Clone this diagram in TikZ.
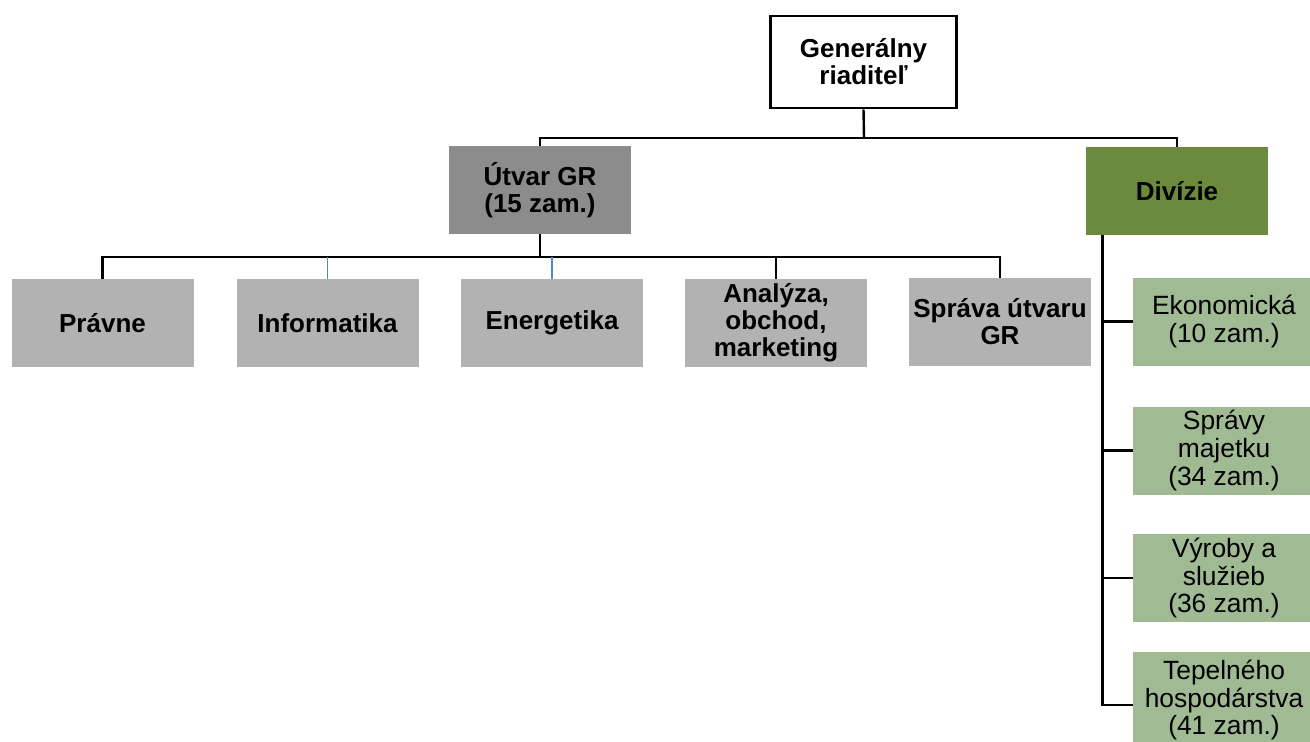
\documentclass[tikz,border=0pt]{standalone}
\usepackage{fontspec}
\setmainfont{Liberation Sans}
\definecolor{headgray}{RGB}{140,140,140}
\definecolor{unitgray}{RGB}{178,178,178}
\definecolor{divgreen}{RGB}{108,138,62}
\definecolor{subgreen}{RGB}{160,186,148}
\definecolor{thinblue}{RGB}{70,140,200}
\tikzset{
  box/.style={rectangle, inner sep=0pt, minimum width=91pt, minimum height=44pt, align=center, font=\fontsize{13}{13.5}\selectfont\bfseries},
  topbox/.style={box, draw=black, line width=1.3pt, minimum width=93pt, minimum height=46pt},
  headbox/.style={box, fill=headgray},
  unitbox/.style={box, fill=unitgray},
  divbox/.style={box, fill=divgreen},
  subbox/.style={box, fill=subgreen, font=\fontsize{13.2}{13.8}\selectfont},
  conn/.style={line width=1.2pt},
  blueconn/.style={thinblue, line width=0.6pt}
}
\begin{document}
\begin{tikzpicture}[x=0.5pt,y=-0.5pt]
\useasboundingbox[fill=white] (0,0) rectangle (1310,741);
\node[topbox] (gr) at (863.5,62) {Generálny\\riaditeľ};
\node[headbox] (utvar) at (540,190) {Útvar GR\\(15 zam.)};
\node[divbox] (div) at (1177,191) {Divízie};
\node[unitbox] (pravne) at (102.5,323) {Právne};
\node[unitbox] (info) at (327.5,323) {Informatika};
\node[unitbox] (ener) at (552,323) {Energetika};
\node[unitbox] (anal) at (776,323) {Analýza,\\obchod,\\marketing};
\node[unitbox] (sprava) at (1000,322) {Správa útvaru\\GR};
\node[subbox] (ekon) at (1224,321.5) {Ekonomická\\(10 zam.)};
\node[subbox] (majetok) at (1224,450.5) {Správy\\majetku\\(34 zam.)};
\node[subbox] (vyroby) at (1224,578) {Výroby a\\služieb\\(36 zam.)};
\node[subbox, minimum height=48pt] (tepel) at (1224,700) {Tepelného\\hospodárstva\\(41 zam.)};
\coordinate (top) at (864,138);
\coordinate (mid) at (540,257);
\coordinate (dv) at ([xshift=8.5pt]div.south west);
\draw[conn] (gr.south) -- (top);
\draw[conn] (utvar.north) |- (top) -| (div.north);
\draw[conn] (utvar.south) -- (mid);
\draw[conn] (pravne.north) |- (mid) -| (sprava.north);
\draw[conn] (anal.north) -- (anal.north |- mid);
\draw[blueconn] (info.north) -- (info.north |- mid);
\draw[blueconn] (ener.north) -- (ener.north |- mid);
\draw[conn] (dv) |- ([yshift=-2.5pt]tepel.west);
\draw[conn] (dv |- ekon.west) -- (ekon.west);
\draw[conn] (dv |- majetok.west) -- (majetok.west);
\draw[conn] (dv |- vyroby.west) -- (vyroby.west);
\end{tikzpicture}
\end{document}
